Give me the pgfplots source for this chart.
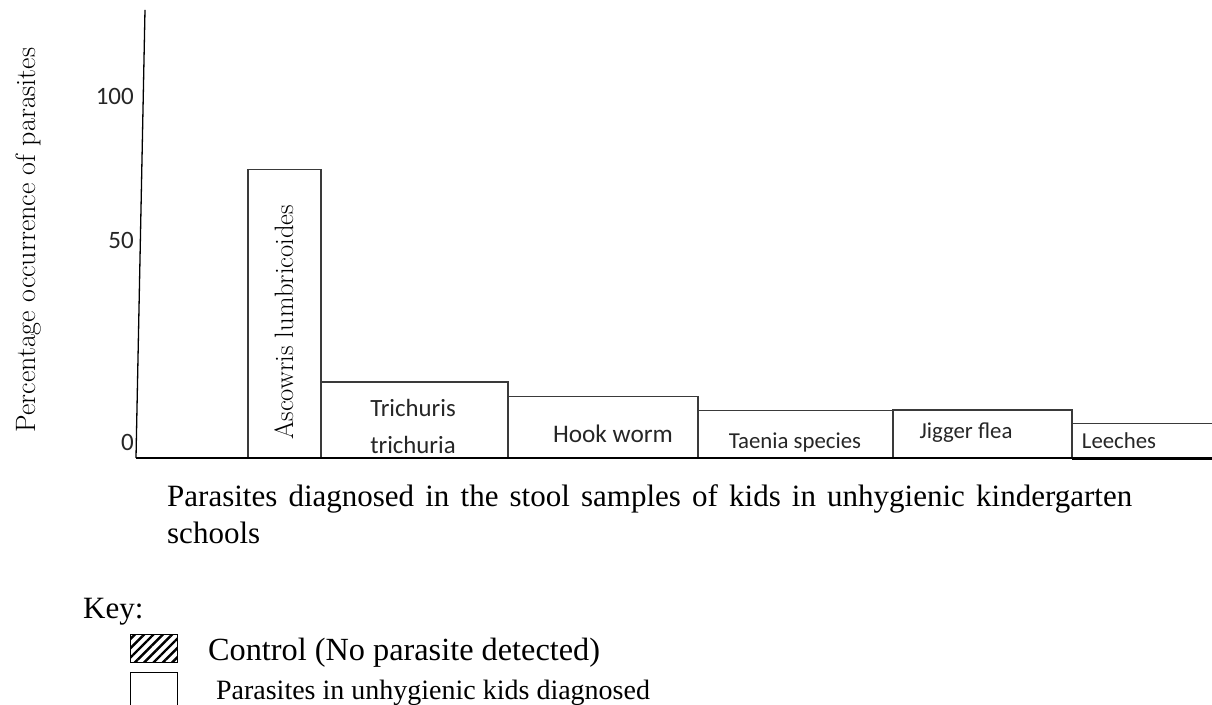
\documentclass[border=0pt]{standalone}
\usepackage{fontspec}
\setmainfont{Liberation Serif}
\newfontfamily\carlito{Carlito}
\newcommand\lmr{\fontfamily{lmr}\selectfont}
\usepackage{pgfplots}
\pgfplotsset{compat=1.18}
\usetikzlibrary{patterns.meta}
\definecolor{barline}{HTML}{3A3A3A}
\definecolor{txt}{HTML}{262626}
\begin{document}
\begin{tikzpicture}
\useasboundingbox (-136pt,-246pt) rectangle (1076pt,458pt);
\begin{axis}[
  at={(0pt,0pt)}, anchor=south west,
  x=1pt, y=3.62pt,
  xmin=136, xmax=1212, ymin=0, ymax=123.76,
  axis line style={draw=none},
  xtick=\empty,
  ytick={4.3,60.2,100}, yticklabels={0,50,100},
  major tick length=0pt,
  /pgf/number format/assume math mode=true,
  yticklabel style={font=\carlito\fontsize{25}{30}\selectfont, color=txt, anchor=east, inner sep=0pt, xshift=-2pt},
  clip=false,
  ylabel={Percentage occurrence of parasites},
  ylabel style={at={(axis description cs:-0.1,0.4866)}, anchor=center, font=\lmr\fontsize{28}{32}\selectfont, inner sep=0pt},
  xlabel={Parasites diagnosed in the stool samples of kids in unhygienic kindergarten\linebreak schools},
  xlabel style={at={(axis description cs:0.0288,-0.058)}, anchor=north west, text width=965pt, align=justify, inner sep=0pt, font=\rmfamily\fontsize{31}{37}\selectfont},
  legend style={at={(axis description cs:-0.00604,-0.3906)}, anchor=north west, draw=none, fill=none, inner sep=0pt, row sep=4pt,
    font=\rmfamily\fontsize{31}{37}\selectfont,
    nodes={inner sep=0pt, text height=22pt, text depth=7pt},
    /tikz/every odd column/.append style={column sep=29pt}},
  legend cell align=left,
]
\addlegendimage{legend image code/.code={\draw[draw=black, line width=1.2pt, pattern={Lines[angle=45,distance=6.6pt,line width=2.4pt]}] (0pt,-9pt) rectangle (47pt,19pt);}}
\addlegendentry{\fontsize{32.3}{37}\selectfont Control (No parasite detected)}
\addplot[ybar interval, fill=white, draw=barline, line width=1.3pt,
  legend image code/.code={\draw[draw=black, line width=1.2pt, fill=white] (0pt,-16pt) rectangle (47pt,20pt);}]
  coordinates {(248,79.6) (321,21.0) (508,16.9) (698,13.1) (893,13.3) (1072,9.6) (1216,9.6)};
\addlegendentry{\hspace{8pt}\fontsize{28}{34}\selectfont Parasites in unhygienic kids diagnosed}

\draw[line width=1.3pt, black] (axis cs:136,0) -- (axis cs:145,123.76);
\draw[line width=1.5pt, black] (axis cs:136,0) -- (axis cs:1212,0);
\draw[line width=3pt, black] (axis cs:1072,0) -- (axis cs:1212,0);

\node[rotate=90, anchor=base west, inner sep=0pt, font=\lmr\fontsize{26.6}{30}\selectfont] at (axis cs:293,4.97) {Ascowris lumbricoides};
\node[anchor=base, inner sep=0pt, color=txt, font=\carlito\fontsize{24.8}{30}\selectfont] at (axis cs:413,11.4) {Trichuris};
\node[anchor=base, inner sep=0pt, color=txt, font=\carlito\fontsize{24.8}{30}\selectfont] at (axis cs:413,1.38) {trichuria};
\node[anchor=base, inner sep=0pt, color=txt, font=\carlito\fontsize{25.3}{30}\selectfont] at (axis cs:613,4.42) {Hook worm};
\node[anchor=base, inner sep=0pt, color=txt, font=\carlito\fontsize{22.8}{28}\selectfont] at (axis cs:795,2.76) {Taenia species};
\node[anchor=base, inner sep=0pt, color=txt, font=\carlito\fontsize{22.8}{28}\selectfont] at (axis cs:966,5.52) {Jigger flea};
\node[anchor=base, inner sep=0pt, color=txt, font=\carlito\fontsize{22.8}{28}\selectfont] at (axis cs:1119,2.76) {Leeches};
\node[anchor=base west, inner sep=0pt, font=\rmfamily\fontsize{31}{37}\selectfont] at (axis cs:83,-44.2) {Key:};
\end{axis}
\end{tikzpicture}
\end{document}
